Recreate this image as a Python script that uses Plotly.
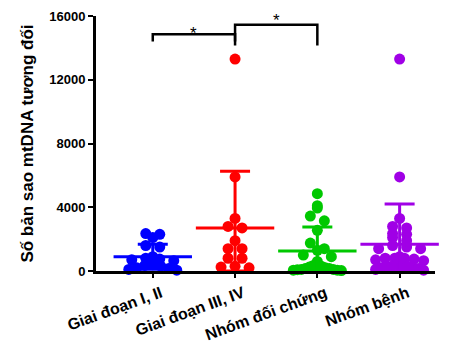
import numpy as np
import plotly.graph_objects as go

categories = ["Giai đoạn I, II", "Giai đoạn III, IV", "Nhóm đối chứng", "Nhóm bệnh"]
giai_doan_12 = [2350, 2300, 2100, 1600, 1500, 900, 800, 750, 700, 650, 400, 350, 300, 200, 150, 100, 50]
giai_doan_34 = [13300, 5900, 3300, 2800, 2700, 1900, 1400, 1400, 800, 800, 300, 200, 250]
doi_chung = [4850, 4100, 3950, 3450, 3150, 2550, 1750, 1400, 1300, 1000, 900, 600, 400, 350,
             300, 250, 200, 150, 150, 100, 100, 80, 50, 50, 30]
nhom_benh = giai_doan_12 + giai_doan_34
series = [giai_doan_12, giai_doan_34, doi_chung, nhom_benh]
colors = ["#0000FF", "#FF0000", "#00C800", "#A000E6"]
y_ticks = [0, 4000, 8000, 12000, 16000]
y_tick_labels = ["0", "4000", "8000", "12000", "16000"]
# significance brackets: (from category, to category, label)
brackets = [(0, 1, "*"), (1, 2, "*")]
bracket_levels = [14850, 15450]
bracket_drop = [14400, 14150]
star_levels = [15550, 16000]
star_shift_px = [0, 6]

# the page body has an 8px margin, so the figure is 8px smaller than the window
W, H = 445, 334
ml, mr, mt, mb = 88, 18, 8, 71
x_range = [-0.69, 3.43]
y_range = [0, 16000]
pw, ph = W - ml - mr, H - mt - mb
px_x = pw / (x_range[1] - x_range[0])
px_y = ph / (y_range[1] - y_range[0])


def swarm_offsets(vals, row_px=7.0, max_sp=14.0, span=48.0):
    """GraphPad-like scatter: points grouped in rows by value, spread symmetrically."""
    vals = np.asarray(vals, dtype=float)
    rows = np.floor(vals * px_y / row_px).astype(int)
    offs = np.zeros(len(vals))
    for r in np.unique(rows):
        idx = np.where(rows == r)[0]
        n = len(idx)
        if n == 1:
            continue
        sp = min(max_sp, span / (n - 1))
        pos = (np.arange(n) - (n - 1) / 2) * sp
        pos = pos[np.argsort(np.abs(pos), kind="stable")]
        idx_sorted = idx[np.argsort(-vals[idx], kind="stable")]
        offs[idx_sorted] = pos
    return offs / px_x


fig = go.Figure()
for ci, (vals, col) in enumerate(zip(series, colors)):
    v = np.array(vals, dtype=float)
    xs = ci + swarm_offsets(v)
    fig.add_trace(go.Scatter(x=xs, y=v, mode="markers", cliponaxis=False,
                             marker=dict(size=11, color=col, line=dict(width=0)),
                             showlegend=False, hoverinfo="y"))
for ci, (vals, col) in enumerate(zip(series, colors)):
    v = np.array(vals, dtype=float)
    m = v.mean()
    sd = v.std(ddof=1)
    fig.add_trace(go.Scatter(x=[ci], y=[m], mode="markers", cliponaxis=False,
                             marker=dict(symbol="line-ew", size=56, color=col,
                                         line=dict(width=3, color=col)),
                             error_y=dict(type="data", array=[sd], arrayminus=[min(sd, m)],
                                          color=col, thickness=3, width=15),
                             showlegend=False, hoverinfo="y"))

for (a, b, lab), lvl, drop, sy, ss in zip(brackets, bracket_levels, bracket_drop,
                                          star_levels, star_shift_px):
    fig.add_trace(go.Scatter(x=[a, a, b, b], y=[drop, lvl, lvl, drop], mode="lines",
                             line=dict(color="black", width=2.5), cliponaxis=False,
                             showlegend=False, hoverinfo="skip"))
    fig.add_annotation(x=(a + b) / 2, y=sy, yshift=ss, text=lab, showarrow=False,
                       yanchor="top", borderpad=0,
                       font=dict(size=17, color="black", family="Liberation Sans"))

fig.update_layout(
    width=W, height=H, margin=dict(l=ml, r=mr, t=mt, b=mb, autoexpand=False),
    paper_bgcolor="white", plot_bgcolor="white",
    font=dict(family="Liberation Sans", color="black"),
    xaxis=dict(range=x_range, tickmode="array", tickvals=list(range(4)), ticktext=categories,
               tickangle=-20, showgrid=False, zeroline=False, showline=True, linecolor="black",
               linewidth=3, ticks="outside", ticklen=4, tickwidth=1.5, tickcolor="black",
               automargin=False, ticklabelshift=8,
               tickfont=dict(size=16, weight="bold", color="black")),
    yaxis=dict(range=y_range, tickmode="array", tickvals=y_ticks, ticktext=y_tick_labels,
               showgrid=False, zeroline=False, automargin=False, ticklabeloverflow="allow",
               showline=True, linecolor="black", linewidth=3, ticks="outside", ticklen=5,
               tickwidth=2, tickcolor="black",
               tickfont=dict(size=13, weight="bold", color="black"),
               title=dict(text="Số bản sao mtDNA tương đối", standoff=12,
                          font=dict(size=17, weight="bold", color="black"))),
)
fig.write_html("out.html")
